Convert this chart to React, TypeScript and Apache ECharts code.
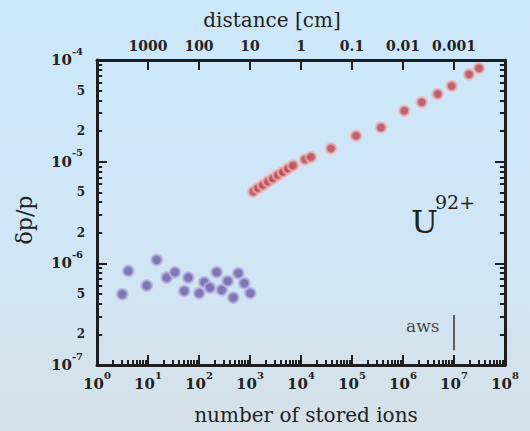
import React, { useEffect, useRef } from "react";
import * as echarts from "echarts";

// ---- data ----
const blueIons = [3.13, 4.11, 9.43, 14.8, 23.3, 33.8, 61.7, 51.5, 101, 127, 164, 222, 279, 365, 471, 590, 773, 1014];
const blueDp = [4.97e-7, 8.42e-7, 6.04e-7, 1.08e-6, 7.24e-7, 8.17e-7, 7.24e-7, 5.35e-7, 5.08e-7, 6.52e-7, 5.77e-7, 8.17e-7, 5.47e-7, 6.71e-7, 4.6e-7, 8.0e-7, 6.37e-7, 5.08e-7];
const redIons = [1161, 1435, 1798, 2254, 2825, 3540, 4437, 5560, 6970, 11970, 15700, 38700, 1.2e5, 3.7e5, 1.06e6, 2.33e6, 4.79e6, 9.0e6, 1.97e7, 3.09e7];
const redDp = [5.07e-6, 5.51e-6, 5.9e-6, 6.38e-6, 6.84e-6, 7.4e-6, 7.92e-6, 8.57e-6, 9.18e-6, 1.05e-5, 1.11e-5, 1.35e-5, 1.8e-5, 2.17e-5, 3.17e-5, 3.84e-5, 4.63e-5, 5.55e-5, 7.23e-5, 8.29e-5];

// ---- tick labels ----
const ionDecades = [1, 10, 100, 1e3, 1e4, 1e5, 1e6, 1e7, 1e8];
const dpDecades = [1e-7, 1e-6, 1e-5, 1e-4];
const minorMultipliers = [2, 3, 4, 5, 6, 7, 8, 9];
const dpLabelMultipliers = [2, 5];
const distanceTicks = [1000, 100, 10, 1, 0.1, 0.01, 0.001];

// a_ws marker
const awsIons = 1e7;
const awsRange = [3.1e-7, 1.4e-7];

const ionMinor = ionDecades.slice(0, -1).flatMap((d) => minorMultipliers.map((m) => m * d));
const dpMinor = dpDecades.slice(0, -1).flatMap((d) => minorMultipliers.map((m) => m * d));
const dpMinorLabels = dpDecades.slice(0, -1).flatMap((d) => dpLabelMultipliers.map((m) => m * d));

const FONT = "'DejaVu Serif', 'Liberation Serif', serif";
const AXIS = "#1e1e1e";
const TXT = "#222";
// tick lengths expressed in decades of the axis they run along
const MAJOR_Y = 0.108, MINOR_Y = 0.05;
const MAJOR_X = 0.216, MINOR_X = 0.1;

const powFmt = (v: number) => `{b|10}{s|${Math.round(Math.log10(v))}}`;
const supRich = {
  b: { fontSize: 15, lineHeight: 28, fontFamily: FONT, color: TXT, fontWeight: "bold" },
  s: { fontSize: 10, lineHeight: 12, verticalAlign: "top", fontFamily: FONT, color: TXT, fontWeight: "bold" },
};
const mantissa = (v: number) => String(Math.round(v / Math.pow(10, Math.floor(Math.log10(v) + 1e-9))));
const seg = (a: number[], b: number[]) => [{ coord: a }, { coord: b }];

export default function App() {
  const ref = useRef<HTMLDivElement>(null);
  useEffect(() => {
    if (!ref.current) return;
    const chart = echarts.init(ref.current, undefined, { renderer: "svg" });
    const lineStyle = { color: AXIS, width: 3 };
    const tick = { show: true, inside: true, length: 10, lineStyle: { color: AXIS, width: 2 } };
    const yMin = dpDecades[0];
    const yMax = dpDecades[dpDecades.length - 1];
    const xMin = ionDecades[0];
    const xMax = ionDecades[ionDecades.length - 1];
    const up = (dec: number) => Math.pow(10, dec);

    const frameTicks = [
      ...ionMinor.map((v) => seg([v, yMin], [v, yMin * up(MINOR_Y)])),
      ...dpMinor.map((v) => seg([xMin, v], [xMin * up(MINOR_X), v])),
      ...dpMinor.map((v) => seg([xMax, v], [xMax / up(MINOR_X), v])),
    ];
    const tickMarkLine = (data: any[]) => ({
      silent: true, animation: false, symbol: ["none", "none"], label: { show: false },
      lineStyle: { color: AXIS, width: 2, type: "solid" },
      data,
    });

    chart.setOption({
      animation: false,
      grid: { left: 97, right: 25, top: 60, bottom: 66 },
      xAxis: [
        {
          type: "log", position: "bottom", min: xMin, max: xMax,
          axisLine: { show: true, lineStyle },
          axisTick: tick,
          axisLabel: { customValues: ionDecades, formatter: powFmt, rich: supRich, margin: 5 },
          splitLine: { show: false },
        },
        {
          type: "log", position: "top", min: 1e-4, max: 1e4, inverse: true,
          axisLine: { show: true, lineStyle },
          axisTick: tick,
          axisLabel: {
            customValues: distanceTicks, formatter: (v: number) => String(v),
            fontSize: 14, fontWeight: "bold", fontFamily: FONT, color: TXT, margin: 7,
          },
          splitLine: { show: false },
        },
      ],
      yAxis: [
        {
          type: "log", position: "left", min: yMin, max: yMax,
          axisLine: { show: true, lineStyle },
          axisTick: tick,
          axisLabel: { customValues: dpDecades, formatter: powFmt, rich: supRich, margin: 14 },
          splitLine: { show: false },
        },
        {
          type: "log", position: "right", min: yMin, max: yMax,
          axisLine: { show: true, lineStyle },
          axisTick: tick,
          axisLabel: { show: false },
          splitLine: { show: false },
        },
        {
          type: "log", position: "left", min: yMin, max: yMax,
          axisLine: { show: false },
          axisTick: { show: false },
          axisLabel: {
            customValues: dpMinorLabels, formatter: mantissa, margin: 12,
            fontSize: 12, fontWeight: "bold", fontFamily: FONT, color: TXT,
          },
          splitLine: { show: false },
        },
      ],
      series: [
        {
          type: "scatter", xAxisIndex: 0, yAxisIndex: 0,
          data: blueIons.map((x, i) => [x, blueDp[i]]),
          symbolSize: 10.5,
          itemStyle: { color: "#665ca3", borderColor: "rgba(185,175,225,0.85)", borderWidth: 2.5 },
          markLine: tickMarkLine(frameTicks),
        },
        {
          type: "scatter", xAxisIndex: 0, yAxisIndex: 0,
          data: redIons.map((x, i) => [x, redDp[i]]),
          symbolSize: 10,
          itemStyle: { color: "#b8434c", borderColor: "rgba(245,175,175,0.85)", borderWidth: 2.5 },
          markLine: {
            silent: true, symbol: ["none", "none"], label: { show: false },
            lineStyle: { color: "#333", width: 1.5, type: "solid" },
            data: [seg([awsIons, awsRange[0]], [awsIons, awsRange[1]])],
          },
        },
      ],
      graphic: [
        {
          type: "text", x: 272, y: 20,
          style: { text: "distance [cm]", fontSize: 20, fontFamily: FONT, fill: TXT, textAlign: "center", textVerticalAlign: "middle" },
        },
        {
          type: "text", x: 306, y: 415,
          style: { text: "number of stored ions", fontSize: 20, fontFamily: FONT, fill: TXT, textAlign: "center", textVerticalAlign: "middle" },
        },
        {
          type: "text", x: 24, y: 220, rotation: Math.PI / 2,
          style: { text: "δp/p", fontSize: 22, fontFamily: FONT, fill: TXT, textAlign: "center", textVerticalAlign: "middle" },
        },
        {
          type: "text", x: 411, y: 222,
          style: { text: "U", fontSize: 32, fontFamily: FONT, fill: TXT, textAlign: "left", textVerticalAlign: "middle" },
        },
        {
          type: "text", x: 435, y: 202,
          style: { text: "92+", fontSize: 19, fontFamily: FONT, fill: TXT, textAlign: "left", textVerticalAlign: "middle" },
        },
        {
          type: "text", x: 406, y: 326,
          style: { text: "aws", fontSize: 17, fontFamily: FONT, fill: "#4a4a4a", textAlign: "left", textVerticalAlign: "middle" },
        },
      ],
    });
    return () => chart.dispose();
  }, []);
  return (
    <div
      ref={ref}
      style={{
        position: "absolute", left: 0, top: 0, width: 530, height: 431,
        background: "linear-gradient(180deg, #cbe8fa 0%, #cfe6f6 55%, #d6e1e8 100%)",
      }}
    />
  );
}
